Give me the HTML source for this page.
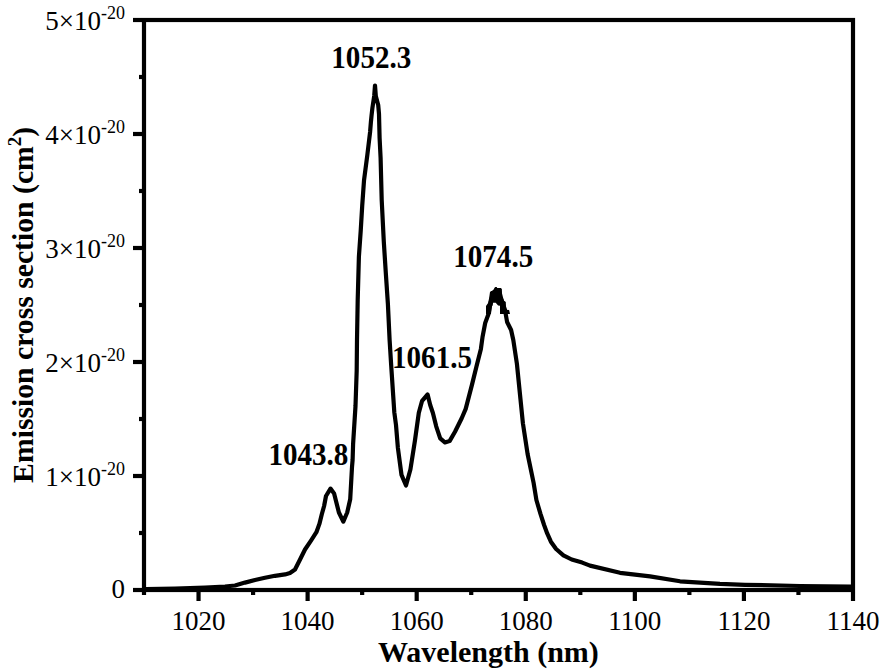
<!DOCTYPE html>
<html><head><meta charset="utf-8">
<style>
html,body{margin:0;padding:0;background:#fff;}
svg{display:block;}
text{font-family:"Liberation Serif",serif;fill:#000;}
.tick text{font-size:27px;}
.sup{font-size:18px;}
.b{font-weight:bold;font-size:30px;}
</style></head><body>
<svg width="882" height="671" viewBox="0 0 882 671">
<rect x="0" y="0" width="882" height="671" fill="#fff"/>
<g stroke="#000" stroke-width="4.2" fill="none">
<line x1="144.00" y1="592" x2="144.00" y2="595" />
<line x1="198.54" y1="592" x2="198.54" y2="601" />
<line x1="253.08" y1="592" x2="253.08" y2="595" />
<line x1="307.62" y1="592" x2="307.62" y2="601" />
<line x1="362.15" y1="592" x2="362.15" y2="595" />
<line x1="416.69" y1="592" x2="416.69" y2="601" />
<line x1="471.23" y1="592" x2="471.23" y2="595" />
<line x1="525.77" y1="592" x2="525.77" y2="601" />
<line x1="580.31" y1="592" x2="580.31" y2="595" />
<line x1="634.85" y1="592" x2="634.85" y2="601" />
<line x1="689.38" y1="592" x2="689.38" y2="595" />
<line x1="743.92" y1="592" x2="743.92" y2="601" />
<line x1="798.46" y1="592" x2="798.46" y2="595" />
<line x1="853.00" y1="592" x2="853.00" y2="601" />
<line x1="142" y1="590.00" x2="133" y2="590.00" />
<line x1="142" y1="533.00" x2="139" y2="533.00" />
<line x1="142" y1="476.00" x2="133" y2="476.00" />
<line x1="142" y1="419.00" x2="139" y2="419.00" />
<line x1="142" y1="362.00" x2="133" y2="362.00" />
<line x1="142" y1="305.00" x2="139" y2="305.00" />
<line x1="142" y1="248.00" x2="133" y2="248.00" />
<line x1="142" y1="191.00" x2="139" y2="191.00" />
<line x1="142" y1="134.00" x2="133" y2="134.00" />
<line x1="142" y1="77.00" x2="139" y2="77.00" />
<line x1="142" y1="20.00" x2="133" y2="20.00" />
</g>
<rect x="144" y="20" width="709" height="570" fill="none" stroke="#000" stroke-width="4.2"/>
<path d="M146.0 589.0 L175.0 588.5 L205.0 587.5 L225.0 586.5 L235.0 585.5 L245.0 582.6 L255.0 580.0 L265.0 577.8 L275.0 575.8 L285.0 574.4 L290.0 572.9 L295.0 569.5 L300.3 559.0 L305.0 549.5 L311.0 540.6 L316.4 532.2 L319.4 523.9 L321.8 514.3 L324.1 506.0 L326.0 496.0 L330.5 488.6 L334.1 493.4 L338.9 512.5 L343.3 521.6 L347.2 512.5 L350.2 499.3 L351.4 477.9 L352.0 467.2 L352.6 460.0 L353.1 444.0 L355.5 406.0 L356.7 370.5 L357.0 340.0 L357.7 300.0 L358.9 256.6 L360.7 231.0 L362.2 206.0 L364.0 180.6 L367.3 155.3 L370.1 132.0 L370.9 122.0 L371.5 116.0 L372.4 108.0 L374.2 96.0 L375.0 85.5 L375.8 96.0 L378.2 105.0 L379.0 114.0 L379.6 138.0 L380.6 158.0 L381.7 200.0 L383.8 241.7 L385.8 272.9 L387.9 304.0 L389.6 339.8 L391.2 365.7 L394.3 412.2 L396.0 425.0 L397.9 448.0 L401.5 474.9 L406.0 485.5 L410.4 469.5 L414.9 440.9 L418.8 412.9 L422.1 400.8 L427.6 394.5 L430.2 405.0 L432.9 413.0 L436.2 426.3 L440.2 438.4 L444.9 442.4 L449.6 441.1 L455.0 431.7 L461.7 418.3 L465.7 408.9 L472.0 384.6 L476.4 366.8 L480.9 348.9 L482.5 337.2 L485.2 323.0 L488.5 314.0 L490.5 303.0 L493.0 293.0 L496.0 290.0 L499.5 292.0 L501.5 300.0 L505.0 310.0 L507.1 322.0 L511.1 330.0 L513.3 340.0 L516.9 363.8 L520.5 399.5 L522.9 423.3 L527.6 454.0 L533.6 482.9 L536.4 500.0 L540.4 513.6 L544.1 525.0 L547.2 533.4 L550.9 541.7 L556.1 549.0 L563.4 555.3 L571.7 559.5 L582.2 562.6 L590.0 565.6 L620.0 572.8 L650.0 576.4 L680.0 581.3 L720.0 583.8 L745.0 584.8 L800.0 586.0 L851.0 586.5" fill="none" stroke="#000" stroke-width="4.2" stroke-linejoin="round" stroke-linecap="round"/>
<path d="M486 314 L486 306.1 L488.1 303 L489.1 298.2 L490 292 L491.2 291.1 L494.1 290.8 L494.3 288 L495.3 287 L496.7 287 L497.2 288 L501 288 L501.9 289.2 L501.9 296.8 L502.9 297.7 L503.8 300.6 L505.8 302 L506 309.7 L509.1 310.1 L510 314 L500 314 L500 305.8 L498.1 305.4 L495.7 302.7 L493.1 302.7 L492.6 305.4 L491.7 306.3 L491 314 Z" fill="#000"/>
<g class="tick">
<text x="198.54" y="630" text-anchor="middle">1020</text>
<text x="307.62" y="630" text-anchor="middle">1040</text>
<text x="416.69" y="630" text-anchor="middle">1060</text>
<text x="525.77" y="630" text-anchor="middle">1080</text>
<text x="634.85" y="630" text-anchor="middle">1100</text>
<text x="743.92" y="630" text-anchor="middle">1120</text>
<text x="853.00" y="630" text-anchor="middle">1140</text>
<text x="125" y="486.00" text-anchor="end">1×10<tspan class="sup" dy="-11">-20</tspan></text>
<text x="125" y="372.00" text-anchor="end">2×10<tspan class="sup" dy="-11">-20</tspan></text>
<text x="125" y="258.00" text-anchor="end">3×10<tspan class="sup" dy="-11">-20</tspan></text>
<text x="125" y="144.00" text-anchor="end">4×10<tspan class="sup" dy="-11">-20</tspan></text>
<text x="125" y="30.00" text-anchor="end">5×10<tspan class="sup" dy="-11">-20</tspan></text>
<text x="125" y="598.00" text-anchor="end">0</text>
</g>
<text class="b" transform="translate(331.3,68.4) scale(0.97,1.06)">1052.3</text>
<text class="b" transform="translate(268.4,465.4) scale(0.97,1.06)">1043.8</text>
<text class="b" transform="translate(392.0,367.9) scale(0.97,1.06)">1061.5</text>
<text class="b" transform="translate(453.2,266.7) scale(0.97,1.06)">1074.5</text>
<text class="b" x="378" y="662">Wavelength (nm)</text>
<text class="b" style="font-size:29.7px" transform="translate(33,482.9) rotate(-90)" x="0" y="0">Emission cross section (cm<tspan class="sup2" dy="-12" font-size="19">2</tspan><tspan dy="12">)</tspan></text>
</svg>
</body></html>
